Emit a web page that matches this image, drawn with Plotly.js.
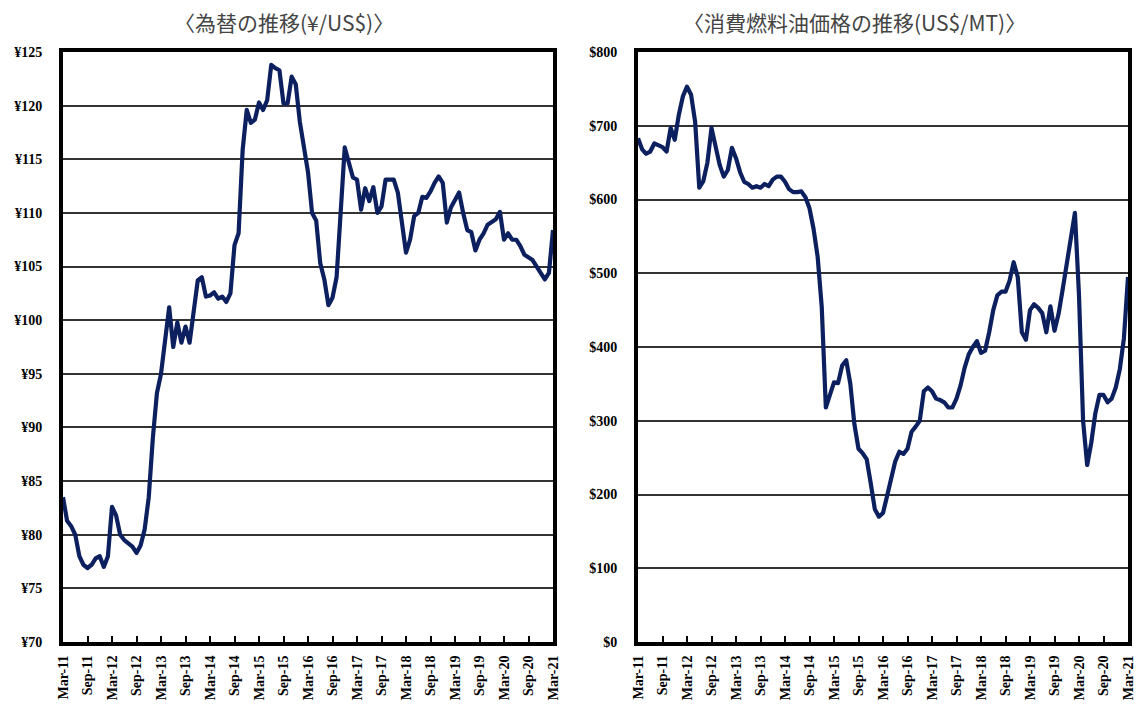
<!DOCTYPE html>
<html>
<head>
<meta charset="utf-8">
<script src="https://cdn.plot.ly/plotly-3.0.1.min.js"></script>
<style>html,body{margin:0;padding:0;background:#fff;}#chart{width:1138px;height:706px;}
#chart .scatterlayer path.js-line{stroke-linejoin:round;}</style>
</head>
<body>
<div id="chart"></div>
<script>
// Month categories Mar-11 .. Mar-21
const monthNames = ['Jan','Feb','Mar','Apr','May','Jun','Jul','Aug','Sep','Oct','Nov','Dec'];
const months = [];
for (let k = 0; k <= 120; k++) {
  const m = (2 + k) % 12;
  const y = 11 + Math.floor((2 + k) / 12);
  months.push(monthNames[m] + '-' + String(y).padStart(2, '0'));
}
const tickMonths = months.filter((_, i) => i % 6 === 0);

// 為替 (¥/US$)
const yen = [
  83.5, 81.3, 80.8, 80.0, 78.0, 77.2, 76.9, 77.2, 77.8, 78.0, 77.0, 78.0,
  82.6, 81.8, 80.0, 79.5, 79.2, 78.9, 78.3, 79.0, 80.5, 83.5, 89.0, 93.2,
  95.0, 97.8, 101.2, 97.5, 99.8, 97.9, 99.4, 97.9, 100.5, 103.7, 104.0, 102.2,
  102.3, 102.6, 102.0, 102.2, 101.7, 102.5, 107.0, 108.1, 115.9, 119.6, 118.4, 118.7,
  120.3, 119.6, 120.5, 123.8, 123.5, 123.3, 120.2, 120.2, 122.7, 122.0, 118.5, 116.0,
  113.8, 110.0, 109.3, 105.3, 103.8, 101.4, 102.1, 104.0, 109.5, 116.1, 114.7, 113.3,
  113.1, 110.3, 112.3, 111.1, 112.4, 110.0, 110.6, 113.1, 113.1, 113.1, 111.9, 109.0,
  106.3, 107.5, 109.7, 110.0, 111.5, 111.4, 112.0, 112.8, 113.4, 112.8, 109.1, 110.5,
  111.2, 111.9, 110.0, 108.4, 108.2, 106.5, 107.5, 108.1, 108.9, 109.2, 109.4, 110.1,
  107.5, 108.1, 107.5, 107.5, 106.9, 106.1, 105.8, 105.6, 105.0, 104.4, 103.8, 104.4,
  108.4
];

// 消費燃料油価格 (US$/MT)
const fuel = [
  683, 668, 662, 665, 676, 673, 671, 665, 697, 681, 715, 740,
  753, 742, 705, 616, 625, 650, 697, 672, 647, 631, 640, 670,
  656, 637, 624, 621, 616, 618, 616, 621, 618, 627, 631, 631,
  624, 614, 610, 610, 611, 603, 588, 560, 522, 454, 318, 335,
  352, 351, 375, 382, 350, 295, 262, 256, 248, 215, 180, 170,
  175, 198, 222, 245, 258, 255, 262, 285, 292, 300, 340, 345,
  340, 330, 328, 325, 318, 318, 330, 348, 372, 390, 400, 408,
  392, 395, 420, 450, 470, 475, 475, 490, 515, 495, 420, 410,
  450, 458, 453, 446, 420, 455, 422, 445, 478, 515, 550, 582,
  470, 300, 240, 270, 310, 335, 335, 325, 330, 345, 370, 412,
  495
];

const navy = '#0c1f5e';
const tickFont = {family: 'Liberation Serif, Times New Roman, serif', size: 14, color: '#000', weight: 'bold'};
const xTickFont = {family: 'Liberation Serif, Times New Roman, serif', size: 14, color: '#000', weight: 'bold'};

function xaxisCfg(domain, anchor) {
  return {
    domain: domain, anchor: anchor, type: 'category',
    range: [0, months.length - 1],
    tickmode: 'array', tickvals: tickMonths, ticktext: tickMonths,
    tickangle: -90, tickfont: xTickFont,
    ticks: 'inside', ticklen: 6, tickwidth: 2, tickcolor: '#000',
    ticklabelstandoff: 4,
    showgrid: false, zeroline: false,
    showline: true, linecolor: '#000', linewidth: 4, mirror: true,
    fixedrange: true
  };
}
function yaxisCfg(domain, anchor, range, dtick, prefix) {
  return {
    domain: domain, anchor: anchor, range: range, dtick: dtick,
    tickprefix: prefix, tickfont: tickFont, ticks: '',
    ticklabelstandoff: 14,
    showgrid: true, gridcolor: '#333', gridwidth: 2,
    zeroline: false, showline: true, linecolor: '#000', linewidth: 4, mirror: true,
    fixedrange: true
  };
}

const yDom = [64 / 706, 654 / 706];
const data = [
  {x: months, y: yen, type: 'scatter', mode: 'lines', xaxis: 'x', yaxis: 'y',
   line: {color: navy, width: 4.2}, hoverinfo: 'x+y'},
  {x: months, y: fuel, type: 'scatter', mode: 'lines', xaxis: 'x2', yaxis: 'y2',
   line: {color: navy, width: 4.2}, hoverinfo: 'x+y'}
];

const titleFont = {family: 'Noto Sans CJK JP, sans-serif', size: 21, color: '#444'};
const layout = {
  width: 1138, height: 706,
  margin: {l: 0, r: 0, t: 0, b: 0},
  paper_bgcolor: '#fff', plot_bgcolor: '#fff',
  showlegend: false,
  xaxis: xaxisCfg([63 / 1138, 553 / 1138], 'y'),
  yaxis: yaxisCfg(yDom, 'x', [70, 125], 5, '¥'),
  xaxis2: xaxisCfg([638 / 1138, 1128 / 1138], 'y2'),
  yaxis2: yaxisCfg(yDom, 'x2', [0, 800], 100, '$'),
  annotations: [
    {text: '〈為替の推移(¥/US$)〉', xref: 'paper', yref: 'paper',
     x: 284 / 1138, y: 1 - 22 / 706, xanchor: 'center', yanchor: 'middle',
     showarrow: false, font: titleFont},
    {text: '〈消費燃料油価格の推移(US$/MT)〉', xref: 'paper', yref: 'paper',
     x: 854 / 1138, y: 1 - 22 / 706, xanchor: 'center', yanchor: 'middle',
     showarrow: false, font: titleFont}
  ]
};

Plotly.newPlot('chart', data, layout, {displayModeBar: false, staticPlot: true});
</script>
</body>
</html>
